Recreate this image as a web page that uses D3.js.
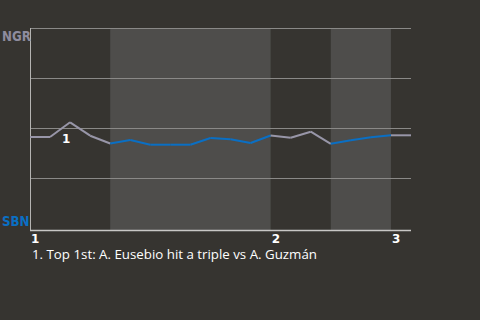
<!DOCTYPE html>
<html><head><meta charset="utf-8">
<script src="https://cdn.jsdelivr.net/npm/d3@7"></script>
<style>
html,body{margin:0;padding:0;background:#363430;}
svg{display:block;}
</style></head>
<body>
<script>
// Data
const awayTeam = "NGR";
const homeTeam = "SBN";
// NGR win expectancy after each play (0 = SBN wins, 1 = NGR wins)
const winProb = [0.455, 0.455, 0.5285, 0.4615, 0.4225, 0.44, 0.4165, 0.4165, 0.4165, 0.45, 0.4435, 0.425, 0.4625, 0.4515, 0.4815, 0.421, 0.4385, 0.4535, 0.4635, 0.4635];
// half-inning of the play (T = NGR batting, B = SBN batting) for each segment ending at index i
const halfOfPlay = ["T","T","T","T","T","B","B","B","B","B","B","B","B","T","T","T","B","B","B","T"];
// half-inning boundaries (play index)
const halfStarts = [0, 4, 12, 15, 18];
const halfEnds = [4, 12, 15, 18, 19];
const halfTypes = ["T", "B", "T", "B", "T"];
const inningLabels = ["1", "2", "3"];
const inningStartIdx = [0, 12, 18];
const yTicks = [0, 0.25, 0.5, 0.75, 1];
const annotations = [{idx: 2, label: "1"}];
const notes = ["1. Top 1st: A. Eusebio hit a triple vs A. Guzmán"];

(function () {
const W = 480, H = 320;
const mLeft = 30, mRight = 411, mTop = 28, mBottom = 228;
const svg = d3.select("body").append("svg").attr("width", W).attr("height", H);
svg.append("rect").attr("width", W).attr("height", H).attr("fill", "#363430");

const x = d3.scaleLinear().domain([0, winProb.length - 1]).range([mLeft, mRight]);
const y = d3.scaleLinear().domain([0, 1]).range([mBottom, mTop]);

// bands for bottom halves
halfStarts.forEach((s, i) => {
  if (halfTypes[i] === "B") {
    svg.append("rect").attr("x", x(s)).attr("y", mTop)
      .attr("width", x(halfEnds[i]) - x(s)).attr("height", mBottom - mTop + 2)
      .attr("fill", "#4e4d4b");
  }
});

// gridlines
svg.append("g").selectAll("line").data(yTicks.filter(d => d > 0)).join("line")
  .attr("x1", mLeft).attr("x2", mRight)
  .attr("y1", d => Math.round(y(d)) + 0.5).attr("y2", d => Math.round(y(d)) + 0.5)
  .attr("stroke", "#8a8987").attr("stroke-width", 1);

// axes lines
svg.append("line").attr("x1", mLeft + 0.5).attr("x2", mLeft + 0.5).attr("y1", mTop).attr("y2", mBottom + 2.5)
  .attr("stroke", "#b5b4b2").attr("stroke-width", 1);
svg.append("line").attr("x1", mLeft).attr("x2", mRight).attr("y1", mBottom + 2.5).attr("y2", mBottom + 2.5)
  .attr("stroke", "#c8c7c5").attr("stroke-width", 1.5);

// line segments
const lineGen = d3.line().x(d => x(d[0])).y(d => y(d[1]));
for (let i = 1; i < winProb.length; i++) {
  const col = halfOfPlay[i] === "T" ? "#9896a8" : "#0a6fc4";
  svg.append("path").attr("d", lineGen([[i - 1, winProb[i - 1]], [i, winProb[i]]]))
    .attr("fill", "none").attr("stroke", col).attr("stroke-width", 2).attr("stroke-linecap", "butt");
}

// team labels
svg.append("text").attr("x", 2).attr("y", y(1) + 13).text(awayTeam)
  .attr("font-family", "DejaVu Sans Condensed, DejaVu Sans").attr("font-weight", "bold")
  .attr("font-size", 13.2).attr("fill", "#8e8c9e");
svg.append("text").attr("x", 2).attr("y", y(0) - 2).text(homeTeam)
  .attr("font-family", "DejaVu Sans Condensed, DejaVu Sans").attr("font-weight", "bold")
  .attr("font-size", 13.2).attr("fill", "#0a6fc4");

// inning labels
svg.append("g").selectAll("text").data(inningLabels).join("text")
  .attr("x", (d, i) => x(inningStartIdx[i]) + 1).attr("y", mBottom + 15)
  .text(d => d).attr("font-family", "DejaVu Sans").attr("font-weight", "bold")
  .attr("font-size", 12).attr("fill", "#ffffff");

// annotations
svg.append("g").selectAll("text").data(annotations).join("text")
  .attr("x", d => x(d.idx) - 4).attr("y", d => y(winProb[d.idx]) + 21)
  .attr("text-anchor", "middle")
  .text(d => d.label).attr("font-family", "DejaVu Sans").attr("font-weight", "bold")
  .attr("font-size", 12).attr("fill", "#ffffff");

// notes
svg.append("g").selectAll("text").data(notes).join("text")
  .attr("x", 32).attr("y", (d, i) => 259 + i * 15)
  .text(d => d).attr("font-family", "Open Sans").attr("font-size", 13.3).attr("fill", "#ffffff");
})();
</script>
</body></html>
